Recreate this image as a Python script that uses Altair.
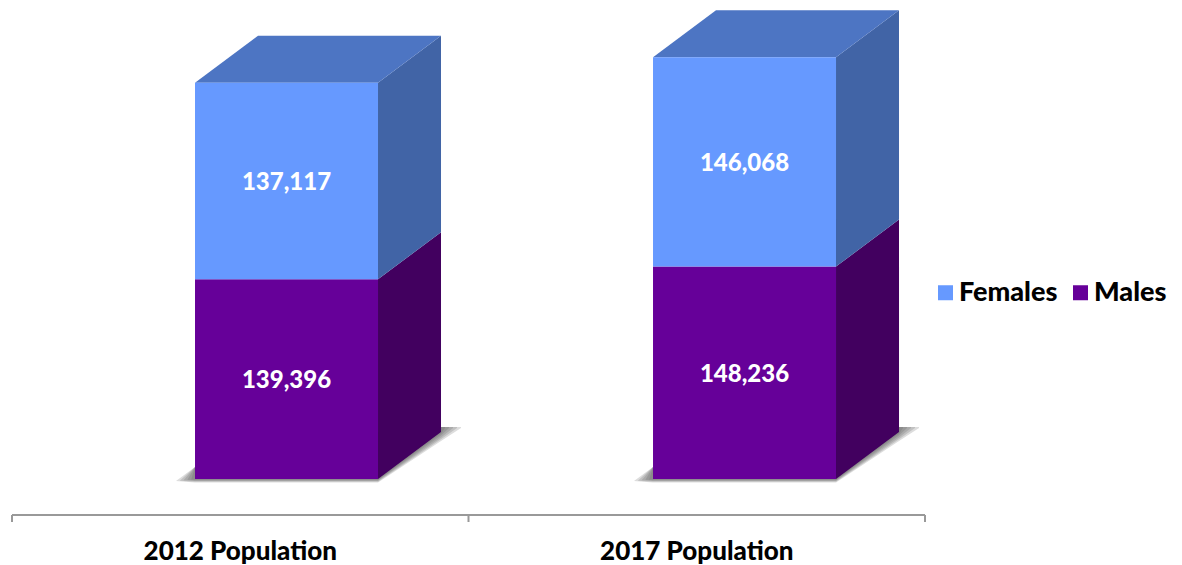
import altair as alt
import pandas as pd

# chart values
categories = ["2012 Population", "2017 Population"]
males = [139396, 148236]
females = [137117, 146068]
series = ["Females", "Males"]

# layout
FONT = "Lato"
W, H = 1166, 557
X_LEFT, X_RIGHT = 12 - 8, 925 - 8
Y_BASE = 479 - 8
PX_PER_UNIT_Y = 1.433 / 1000
Y_MAX = 330000
X_PER_BAND = (X_RIGHT - X_LEFT) / 2
BAR_START = [0.4009, 1.4042]
BAR_W = 183 / X_PER_BAND
DX = 63 / X_PER_BAND
DY = 47 / PX_PER_UNIT_Y


def px_x(p):
    return p / X_PER_BAND


def px_y(p):
    return p / PX_PER_UNIT_Y


x_scale = alt.Scale(domain=[0, 2], range=[X_LEFT, X_RIGHT])
y_scale = alt.Scale(domain=[0, Y_MAX], range=[Y_BASE, Y_BASE - Y_MAX * PX_PER_UNIT_Y])
X = alt.X("x:Q", scale=x_scale, axis=None)
Y = alt.Y("y:Q", scale=y_scale, axis=None)


def face(xs, lows, highs, colour, opacity=1.0):
    frame = pd.DataFrame({"x": xs, "y": lows, "yy": highs})
    return (
        alt.Chart(frame)
        .mark_area(color=colour, opacity=opacity, interpolate="linear")
        .encode(x=X, y=Y, y2="yy:Q")
    )


fronts, labels = [], []
shadow_layers, face_layers = [], []
for i, cat in enumerate(categories):
    x0 = BAR_START[i]
    x1 = x0 + BAR_W
    m, f = males[i], females[i]
    total = m + f
    fronts.append(dict(x=x0, x2=x1, y=0, y2=m, s="Males"))
    fronts.append(dict(x=x0, x2=x1, y=m, y2=total, s="Females"))
    labels.append(dict(x=(x0 + x1) / 2, y=m / 2, v=m))
    labels.append(dict(x=(x0 + x1) / 2, y=m + f / 2, v=f))
    face_layers.append(face([x1, x1 + DX], [0, DY], [m, m + DY], "#42005F"))
    face_layers.append(face([x1, x1 + DX], [m, m + DY], [total, total + DY], "#4164A6"))
    face_layers.append(
        face(
            [x0, x0 + DX, x1, x1 + DX],
            [total, total, total, total + DY],
            [total, total + DY, total + DY, total + DY],
            "#4D75C3",
        )
    )
    for grow in [1.0, 0.8, 0.6, 0.4, 0.2]:
        low = px_y(-3.5 * grow)
        shadow_layers.append(
            face(
                [x0 - px_x(19 * grow), x0, x1, x1 + DX, x1 + DX + px_x(20 * grow)],
                [low * 0.6, low, low, DY + px_y(-9 * grow), px_y(51)],
                [low * 0.6, px_y(12), px_y(30), px_y(52), px_y(52)],
                "#555555",
                0.2,
            )
        )

front_layer = (
    alt.Chart(pd.DataFrame(fronts))
    .mark_rect()
    .encode(
        x=X,
        x2="x2:Q",
        y=Y,
        y2="y2:Q",
        color=alt.Color(
            "s:N",
            scale=alt.Scale(domain=series, range=["#6699FF", "#660099"]),
            legend=alt.Legend(
                orient="none",
                legendX=940 - 8 - 8,
                legendY=279 - 8,
                direction="horizontal",
                title=None,
                symbolType="square",
                symbolSize=225,
                symbolStrokeWidth=0,
                symbolOpacity=1,
                labelFont=FONT,
                labelFontWeight=900,
                labelFontSize=27,
                labelColor="#000000",
                labelOffset=0,
                columnPadding=9,
                labelLimit=200,
            ),
        ),
    )
)
value_layer = (
    alt.Chart(pd.DataFrame(labels))
    .mark_text(font=FONT, fontWeight=900, fontSize=24, color="#FFFFFF", dy=2)
    .encode(x=X, y=Y, text=alt.Text("v:Q", format=","))
)

AXIS_Y = 515 - 8
axis_line = (
    alt.Chart(pd.DataFrame({"x": [0.0], "x2": [2.0]}))
    .mark_rule(color="#999999", strokeWidth=2)
    .encode(x=X, x2="x2:Q", y=alt.value(AXIS_Y))
)
axis_ticks = (
    alt.Chart(pd.DataFrame({"x": [0.0, 1.0, 2.0]}))
    .mark_rule(color="#999999", strokeWidth=2)
    .encode(x=X, y=alt.value(AXIS_Y), y2=alt.value(AXIS_Y + 7))
)
cat_layer = (
    alt.Chart(pd.DataFrame({"x": [0.5, 1.5], "t": categories}))
    .mark_text(font=FONT, fontWeight=900, fontSize=26, color="#000000", baseline="middle")
    .encode(x=X, y=alt.value(552 - 8), text="t:N")
)

chart = (
    alt.layer(*shadow_layers, *face_layers, front_layer, value_layer, axis_line, axis_ticks, cat_layer)
    .properties(width=W, height=H, padding=0, autosize=alt.AutoSizeParams(type="none"))
    .configure_view(stroke=None)
)

chart.save("out.html", embed_options={"renderer": "svg", "actions": False})
